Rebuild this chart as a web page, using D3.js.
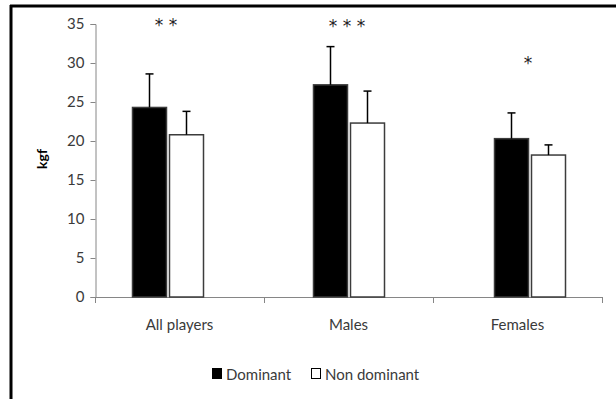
<!DOCTYPE html>
<html>
<head>
<meta charset="utf-8">
<script src="https://cdn.jsdelivr.net/npm/d3@7"></script>
<style>
  html, body { margin: 0; padding: 0; background: #fff; }
  svg { display: block; }
  text { font-family: Lato, "Open Sans", sans-serif; }
</style>
</head>
<body>
<div id="chart"></div>
<script>
// Grip strength (kgf), mean and SD by group and hand
const categories = ["All players", "Males", "Females"];
const dominantMean = [24.3, 27.2, 20.3];
const dominantSD = [4.3, 4.9, 3.3];
const nonDominantMean = [20.8, 22.3, 18.2];
const nonDominantSD = [3.0, 4.1, 1.3];
const significance = ["* *", "* * *", "*"];
const significanceLevel = [35.4, 35.3, 30.5];
const yTicks = [0, 5, 10, 15, 20, 25, 30, 35];
const seriesNames = ["Dominant", "Non dominant"];

const W = 616, H = 399;
const svg = d3.select("#chart").append("svg").attr("width", W).attr("height", H);

// frame lines (top and left)
svg.append("line").attr("x1", 10).attr("x2", W).attr("y1", 6).attr("y2", 6)
  .attr("stroke", "#000").attr("stroke-width", 3);
svg.append("line").attr("x1", 11).attr("x2", 11).attr("y1", 5).attr("y2", H)
  .attr("stroke", "#000").attr("stroke-width", 3);

const y = d3.scaleLinear().domain([0, 35]).range([297, 24]);
const xAxisScale = d3.scaleBand().domain(categories).range([95, 602]);
const xGroups = d3.scalePoint().domain(categories).range([168, 530]);

const gridColor = "#868686";
const textColor = "#3a3a3a";
const fontSize = "15px";

// y axis
const yAxis = svg.append("g").attr("transform", "translate(95.5,0)")
  .call(d3.axisLeft(y).tickValues(yTicks).tickSize(5).tickPadding(6));
yAxis.select(".domain").attr("stroke", gridColor);
yAxis.selectAll(".tick line").attr("stroke", gridColor);
yAxis.selectAll(".tick text").attr("fill", textColor).style("font-size", fontSize)
  .style("font-family", "Lato, sans-serif");

// x axis
const xAxis = svg.append("g").attr("transform", "translate(0,297.5)")
  .call(d3.axisBottom(xAxisScale).tickSize(0).tickPadding(22));
xAxis.select(".domain").remove();
xAxis.selectAll(".tick text").attr("fill", textColor).style("font-size", fontSize)
  .style("font-family", "Lato, sans-serif");
svg.append("line").attr("x1", 95).attr("x2", 602).attr("y1", 297.5).attr("y2", 297.5)
  .attr("stroke", gridColor);
svg.selectAll("line.xtick")
  .data(categories.concat(["end"]))
  .join("line").attr("class", "xtick")
  .attr("x1", (d, i) => Math.round(i < categories.length ? xAxisScale(d) : xAxisScale.range()[1]) + 0.5)
  .attr("x2", (d, i) => Math.round(i < categories.length ? xAxisScale(d) : xAxisScale.range()[1]) + 0.5)
  .attr("y1", 297).attr("y2", 303)
  .attr("stroke", gridColor);

// y label
svg.append("text").attr("transform", "translate(47,159) rotate(-90)")
  .attr("text-anchor", "middle").style("font-size", "14px").style("font-weight", "bold")
  .attr("fill", "#000").text("kgf");

const barW = 34;
const series = [
  { mean: dominantMean, sd: dominantSD, fill: "#000", dx: -barW - 1.5 },
  { mean: nonDominantMean, sd: nonDominantSD, fill: "#fff", dx: 1.5 }
];

series.forEach(s => {
  const g = svg.append("g");
  g.selectAll("rect").data(categories).join("rect")
    .attr("x", d => xGroups(d) + s.dx)
    .attr("y", (d, i) => y(s.mean[i]))
    .attr("width", barW)
    .attr("height", (d, i) => y(0) - y(s.mean[i]))
    .attr("fill", s.fill)
    .attr("stroke", "#3c3c3c").attr("stroke-width", 1.5);
  // error bars (upper)
  g.selectAll("line.err").data(categories).join("line").attr("class", "err")
    .attr("x1", d => xGroups(d) + s.dx + barW / 2)
    .attr("x2", d => xGroups(d) + s.dx + barW / 2)
    .attr("y1", (d, i) => y(s.mean[i]))
    .attr("y2", (d, i) => y(s.mean[i] + s.sd[i]))
    .attr("stroke", "#000").attr("stroke-width", 1.5);
  g.selectAll("line.cap").data(categories).join("line").attr("class", "cap")
    .attr("x1", d => xGroups(d) + s.dx + barW / 2 - 4)
    .attr("x2", d => xGroups(d) + s.dx + barW / 2 + 4)
    .attr("y1", (d, i) => y(s.mean[i] + s.sd[i]))
    .attr("y2", (d, i) => y(s.mean[i] + s.sd[i]))
    .attr("stroke", "#000").attr("stroke-width", 1.5);
});

// significance markers
svg.selectAll("text.sig").data(categories).join("text").attr("class", "sig")
  .attr("x", d => xGroups(d) - 2)
  .attr("y", (d, i) => y(significanceLevel[i]) + 10)
  .attr("text-anchor", "middle")
  .style("font-size", "17px").attr("fill", "#222")
  .style("font-family", "'DejaVu Sans', sans-serif")
  .text((d, i) => significance[i]);

// legend
const legend = svg.append("g");
const legendX = [212, 311];
seriesNames.forEach((name, i) => {
  legend.append("rect").attr("x", legendX[i] + 0.5).attr("y", 368.5)
    .attr("width", 9).attr("height", 10)
    .attr("fill", i === 0 ? "#000" : "#fff").attr("stroke", "#000").attr("stroke-width", 1);
  legend.append("text").attr("x", legendX[i] + 14).attr("y", 379.5)
    .attr("fill", textColor).style("font-size", fontSize).text(name);
});
</script>
</body>
</html>
